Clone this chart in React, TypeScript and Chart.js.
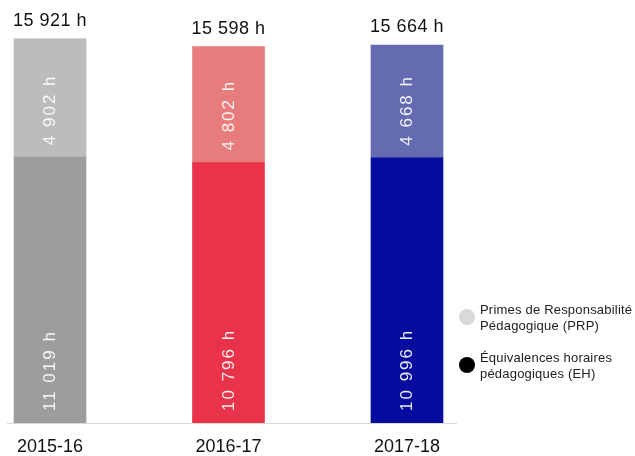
import React, { useEffect, useRef } from "react";
import { Chart, registerables } from "chart.js";

Chart.register(...registerables);

const categories = ["2015-16", "2016-17", "2017-18"];
const ehValues = [11019, 10796, 10996];
const prpValues = [4902, 4802, 4668];
const ehColors = ["#9d9d9b", "#e8334a", "#060c9e"];
const prpColors = ["#bcbcbc", "#e77c7c", "#646bb0"];
const legendItems = [
  { lines: ["Primes de Responsabilité", "Pédagogique (PRP)"], color: "#d9d9d9" },
  { lines: ["Équivalences horaires", "pédagogiques (EH)"], color: "#000000" },
];

const fmt = (v: number) => String(v).replace(/\B(?=(\d{3})+(?!\d))/g, " ") + " h";
const FONT = "'Liberation Sans', Arial, sans-serif";

const labelPlugin = {
  id: "customLabels",
  afterDatasetsDraw(chart: any) {
    const ctx = chart.ctx;
    ctx.save();
    chart.data.datasets.forEach((ds: any, di: number) => {
      const meta = chart.getDatasetMeta(di);
      meta.data.forEach((el: any, i: number) => {
        const { x, base } = el.getProps(["x", "base"], true);
        ctx.save();
        ctx.translate(x + 0.5, base - 12);
        ctx.rotate(-Math.PI / 2);
        ctx.font = `17px ${FONT}`;
        (ctx as any).letterSpacing = "2px";
        ctx.fillStyle = "rgba(255,255,255,0.92)";
        ctx.textAlign = "left";
        ctx.textBaseline = "middle";
        ctx.fillText(fmt(ds.data[i]), 0, 0);
        ctx.restore();
      });
    });
    const last = chart.getDatasetMeta(chart.data.datasets.length - 1);
    last.data.forEach((el: any, i: number) => {
      const { x, y } = el.getProps(["x", "y"], true);
      const total = ehValues[i] + prpValues[i];
      ctx.save();
      ctx.font = `18px ${FONT}`;
      (ctx as any).letterSpacing = "0.5px";
      ctx.fillStyle = "#111";
      ctx.textAlign = "center";
      ctx.textBaseline = "alphabetic";
      ctx.fillText(fmt(total), x, y - 13);
      ctx.restore();
    });
    ctx.restore();
  },
  afterDraw(chart: any) {
    const ctx = chart.ctx;
    const area = chart.chartArea;
    ctx.save();
    ctx.strokeStyle = "#d9d9d9";
    ctx.lineWidth = 1;
    ctx.beginPath();
    ctx.moveTo(7, Math.round(area.bottom) + 0.5);
    ctx.lineTo(457, Math.round(area.bottom) + 0.5);
    ctx.stroke();
    legendItems.forEach((item, k) => {
      const cy = 317 + k * 48;
      ctx.fillStyle = item.color;
      ctx.beginPath();
      ctx.arc(467, cy, 8, 0, Math.PI * 2);
      ctx.fill();
      ctx.font = `13px ${FONT}`;
      (ctx as any).letterSpacing = "0.2px";
      ctx.fillStyle = "#222";
      ctx.textAlign = "left";
      ctx.textBaseline = "middle";
      item.lines.forEach((ln, j) => {
        ctx.fillText(ln, 480, cy - 7 + j * 16);
      });
    });
    ctx.restore();
  },
};

export default function App() {
  const ref = useRef<HTMLCanvasElement | null>(null);
  useEffect(() => {
    if (!ref.current) return;
    const chart = new Chart(ref.current, {
      type: "bar",
      data: {
        labels: categories,
        datasets: [
          { label: "Équivalences horaires pédagogiques (EH)", data: ehValues, backgroundColor: ehColors, barThickness: 72, clip: false as any },
          { label: "Primes de Responsabilité Pédagogique (PRP)", data: prpValues, backgroundColor: prpColors, barThickness: 72, clip: false as any },
        ],
      },
      options: {
        responsive: true,
        maintainAspectRatio: false,
        animation: false,
        layout: { padding: { left: 50, right: 228, top: 37, bottom: 0 } },
        plugins: { legend: { display: false }, tooltip: { enabled: false } },
        scales: {
          x: {
            stacked: true,
            offset: false,
            grid: { display: false, drawTicks: false },
            border: { display: false },
            ticks: { color: "#111", font: { size: 18, family: FONT }, padding: 13, maxRotation: 0, autoSkip: false },
            afterFit: (axis: any) => { axis.height = 33; },
          },
          y: { stacked: true, display: false, min: 0, max: 16000 },
        },
      },
      plugins: [labelPlugin],
    });
    return () => chart.destroy();
  }, []);
  return (
    <div style={{ position: "absolute", left: 0, top: 0, width: 635, height: 456 }}>
      <canvas ref={ref} />
    </div>
  );
}
